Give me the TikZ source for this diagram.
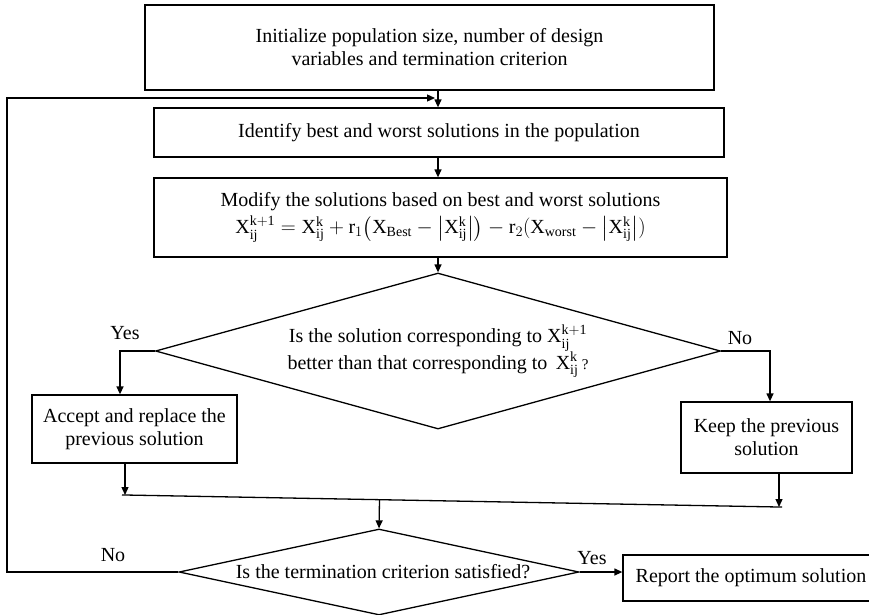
\documentclass[tikz,border=0pt]{standalone}
\usepackage{amsmath}
\usepackage{fontspec}
\setmainfont{Liberation Serif}
\usepackage{tikz}
\usetikzlibrary{arrows.meta,positioning,shapes.geometric,calc}

\newcommand{\Xk}[1]{\mathrm{X}^{\mathrm{#1}}_{\mathrm{ij}}}

\begin{document}
\begin{tikzpicture}[x=1pt,y=-1pt,line width=1.3pt,>={Triangle[length=8pt,width=7pt]},
  font=\fontsize{20}{23}\selectfont]
\tikzstyle{box} = [draw, rectangle, align=center, inner sep=0pt]
\tikzstyle{choice} = [draw, diamond, inner sep=0pt]
\useasboundingbox (0,0) rectangle (869,614);

\node[box, minimum width=569, minimum height=85] (init) at (429.5,47.5)
  {Initialize population size, number of design\\variables and termination criterion};
\node[box, minimum width=570, minimum height=49] (ident) at (439,132.5)
  {Identify best and worst solutions in the population};
\node[box, minimum width=573, minimum height=79] (modify) at (440.5,217.5)
  {Modify the solutions based on best and worst solutions\\[4pt]
   $\Xk{k+1} = \Xk{k} + \mathrm{r}_1\bigl(\mathrm{X}_{\mathrm{Best}} - \bigl|\Xk{k}\bigr|\bigr)
   - \mathrm{r}_2(\mathrm{X}_{\mathrm{worst}} - \bigl|\Xk{k}\bigr|)$};

\node[choice, minimum width=565, minimum height=156] (test) at (438,351) {};
\node[align=center] (testtxt) at (test)
  {Is the solution corresponding to $\Xk{k+1}$\\
   better than that corresponding to \,$\Xk{k}$\,{\fontsize{15}{15}\selectfont ?}};

\node[box, minimum width=205, minimum height=68] (accept) at (134.5,429)
  {Accept and replace the\\previous solution};
\node[box, minimum width=171, minimum height=71] (keep) at (766.5,437.5)
  {Keep the previous\\solution};

\node[choice, minimum width=400, minimum height=86] (stop) at (379,572) {};
\node (stoptxt) at (383,572) {Is the termination criterion satisfied?};
\node[box, minimum width=256, minimum height=46] (report) at (751,578)
  {Report the optimum solution};

\node (yes1) at (125,333) {Yes};
\node (no1) at (740,338) {No};
\node (no2) at (113,555) {No};
\node (yes2) at (592,558) {Yes};

\coordinate (axis) at (438,0);
\coordinate (edge) at (7,98);
\coordinate (back) at (435,98);
\coordinate (ml) at (125,495);
\coordinate (mr) at (779,507);

\draw[->] (init.south -| axis) -- (ident.north -| axis);
\draw[->] (ident.south -| axis) -- (modify.north -| axis);
\draw[->] (modify.south -| axis) -- (test.north);
\draw[->] (test.west) -| ([xshift=-14.5]accept.north);
\draw[->] (test.east) -| ([xshift=3.5]keep.north);
\draw[->] ([xshift=-9.5]accept.south) -- (ml);
\draw[->] ([xshift=12.5]keep.south) -- (mr);
\draw ($(ml)!-3pt!(mr)$) -- ($(mr)!-3pt!(ml)$);
\draw[->] ($(ml)!(stop.north)!(mr)$) -- (stop.north);
\draw[->] (stop.east) -- (stop.east -| report.west);
\draw[->] (stop.west) -| (edge) -- (back);
\end{tikzpicture}
\end{document}
